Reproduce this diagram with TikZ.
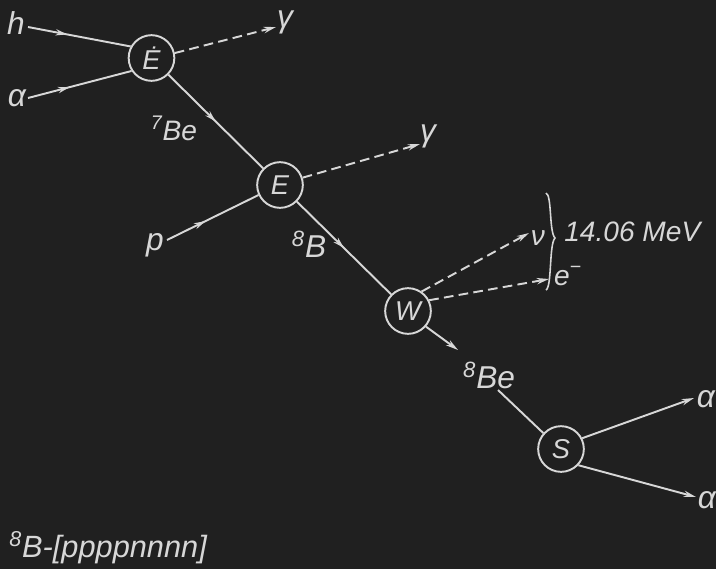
\documentclass[tikz,border=0pt]{standalone}
\usepackage{fontspec}
\setmainfont{Liberation Sans}
\usetikzlibrary{arrows.meta,decorations.markings}
\definecolor{bg}{RGB}{32,32,32}
\definecolor{fg}{RGB}{215,215,215}
\begin{document}
\begin{tikzpicture}[x=0.02cm,y=-0.02cm,
  line/.style={draw=fg,line width=1.1pt},
  midarrow/.style={line,postaction={decorate},decoration={markings,mark=at position #1 with {\arrow[fg]{Stealth[length=6.5pt,width=3.6pt]}}}},
  midarrow/.default=0.45,
  dashline/.style={line,dash pattern=on 5.5pt off 3pt,-{Stealth[length=7pt,width=3.6pt]}},
  endarrow/.style={line,-{Stealth[length=7pt,width=3.6pt]}},
  vertex/.style={circle,draw=fg,line width=1.1pt,minimum size=26pt,inner sep=0pt,text=fg,font=\itshape\fontsize{15.5}{17}\selectfont},
  lbl/.style={text=fg,inner sep=0pt,font=\itshape\fontsize{18}{21}\selectfont},
  slbl/.style={lbl,font=\itshape\fontsize{16}{19}\selectfont}]
\path[use as bounding box,fill=bg] (0,0) rectangle (716,569);

% vertices
\node[vertex] (E1) at (151.5,58) {Ė};
\node[vertex] (E2) at (280,185) {E};
\node[vertex] (W) at (408,311) {W};
\node[vertex] (S) at (561,449) {S};

% labels
\node[lbl] (h) at (16,23) {h};
\node[lbl] (a1) at (17,98) {α};
\node[lbl] (g1) at (285,22) {γ};
\node[lbl] (g2) at (428,136) {γ};
\node[slbl] (Be7) at (174,128) {\textsuperscript{7}Be};
\node[lbl] (p) at (155,245) {p};
\node[lbl] (B8) at (309,244) {\textsuperscript{8}B};
\node[slbl] (nu) at (538,238) {ν};
\node[slbl] (el) at (568,276) {e\textsuperscript{−}};
\node[slbl,anchor=west] (mev) at (564,232) {14.06 MeV};
\node[lbl] (Be8) at (489,375) {\textsuperscript{8}Be};
\node[lbl] (a2) at (706,399) {α};
\node[lbl] (a3) at (707,500) {α};
\node[lbl,anchor=west,font=\itshape\fontsize{17.5}{20}\selectfont] (formula) at (9,548) {\textsuperscript{8}B-[ppppnnnn]};

% free ends
\coordinate (hs) at (28,27);
\coordinate (as) at (28,98);
\coordinate (g1e) at (276,27);
\coordinate (ps) at (167,240);
\coordinate (g2e) at (420,144);
\coordinate (nue) at (529,233);
\coordinate (ee) at (549,279);
\coordinate (wbe) at (458,350);
\coordinate (be8s) at (498,390);
\coordinate (a2e) at (694,398);
\coordinate (a3e) at (696,497);

% connectors
\draw[midarrow=0.38] (hs) -- (E1.151);
\draw[midarrow=0.4] (as) -- (E1.213);
\draw[dashline] (E1.12) -- (g1e);
\draw[midarrow=0.5] (E1) -- (E2);
\draw[dashline] (E2.18) -- (g2e);
\draw[midarrow=0.42] (ps) -- (E2.205);
\draw[midarrow=0.5] (E2) -- (W);
\draw[dashline] (W.55) -- (nue);
\draw[dashline] (W.27) -- (ee);
\draw[endarrow] (W.-41) -- (wbe);
\draw[line] (be8s) -- (S.138);
\draw[endarrow] (S.27) -- (a2e);
\draw[endarrow] (S.-43) -- (a3e);

% brace
\draw[line,line width=0.9pt] (546,193) .. controls (552,195) and (549,232) .. (555,238)
  .. controls (549,244) and (552,287) .. (546,290);
\end{tikzpicture}
\end{document}
